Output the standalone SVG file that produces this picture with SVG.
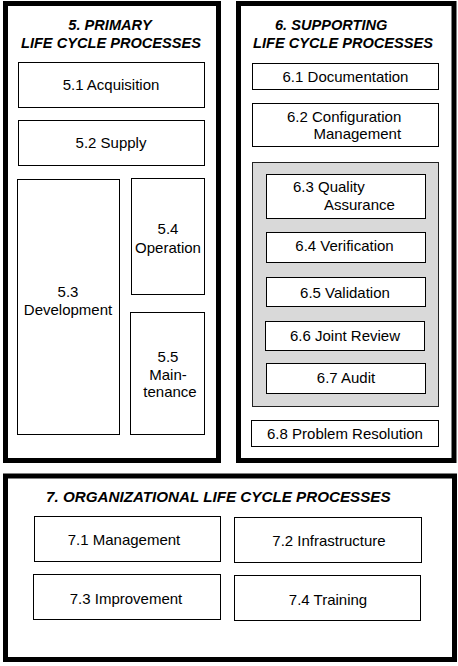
<svg xmlns="http://www.w3.org/2000/svg" width="458" height="666" viewBox="0 0 458 666">
<style>
text{font-family:"Liberation Sans",Arial,sans-serif;fill:#000}
.t{font-size:15px;text-anchor:middle}
.ts{font-size:15px}
.h{font-size:14.6px;font-weight:bold;font-style:italic}
.frame{fill:#fff;stroke:#000;stroke-width:5}
.box{fill:#fff;stroke:#000;stroke-width:1}
.grp{fill:#d9d9d9;stroke:#222;stroke-width:1}
</style>
<rect width="458" height="666" fill="#fff"/>
<g id="frame5">
<rect class="frame" x="5.5" y="3.5" width="213" height="457"/>
<text class="h" x="110" y="29.5" text-anchor="middle">5. PRIMARY</text>
<text class="h" x="111" y="48" text-anchor="middle">LIFE CYCLE PROCESSES</text>
</g>
<g id="frame6">
<rect class="frame" x="238.5" y="3.5" width="215.5" height="457"/>
<text class="h" x="275" y="29.5">6. SUPPORTING</text>
<text class="h" x="253" y="48">LIFE CYCLE PROCESSES</text>
</g>
<g id="frame7">
<rect class="frame" x="5.5" y="476" width="449" height="183.5"/>
<text class="h" x="46" y="502" style="font-size:15.2px">7. ORGANIZATIONAL LIFE CYCLE PROCESSES</text>
</g>
<g id="connectors"></g>
<g id="n5-1"><rect class="box" x="18.5" y="62.5" width="186" height="45"/><text class="t" x="111" y="90">5.1 Acquisition</text></g>
<g id="n5-2"><rect class="box" x="18.5" y="120.5" width="186" height="45"/><text class="t" x="111" y="148">5.2 Supply</text></g>
<g id="n5-3"><rect class="box" x="17.5" y="179.5" width="102" height="255"/><text class="t" x="68" y="297">5.3</text><text class="t" x="68" y="314.5">Development</text></g>
<g id="n5-4"><rect class="box" x="131.5" y="178.5" width="73" height="116"/><text class="t" x="168" y="234">5.4</text><text class="t" x="168" y="252.5">Operation</text></g>
<g id="n5-5"><rect class="box" x="130.5" y="312.5" width="74" height="122"/><text class="t" x="168" y="362">5.5</text><text class="t" x="168" y="379.5">Main-</text><text class="t" x="170" y="397">tenance</text></g>
<g id="n6-1"><rect class="box" x="252.5" y="63.5" width="186" height="26"/><text class="t" x="345.5" y="81.5">6.1 Documentation</text></g>
<g id="n6-2"><rect class="box" x="252.5" y="103.5" width="186" height="43"/><text class="ts" x="287" y="121.5">6.2 Configuration</text><text class="ts" x="313.5" y="139">Management</text></g>
<g id="g6-qa"><rect class="grp" x="252.5" y="162.5" width="186" height="244"/></g>
<g id="n6-3"><rect class="box" x="266.5" y="174.5" width="159" height="44"/><text class="ts" x="293" y="192">6.3 Quality</text><text class="ts" x="324" y="210">Assurance</text></g>
<g id="n6-4"><rect class="box" x="266.5" y="232.5" width="159" height="30"/><text class="t" x="344.5" y="251">6.4 Verification</text></g>
<g id="n6-5"><rect class="box" x="266.5" y="277.5" width="159" height="29"/><text class="t" x="345" y="297.5">6.5 Validation</text></g>
<g id="n6-6"><rect class="box" x="265.5" y="321.5" width="159" height="29"/><text class="t" x="345" y="341">6.6 Joint Review</text></g>
<g id="n6-7"><rect class="box" x="266.5" y="363.5" width="159" height="30"/><text class="t" x="346" y="383">6.7 Audit</text></g>
<g id="n6-8"><rect class="box" x="251.5" y="420.5" width="187" height="26"/><text class="t" x="345" y="438.5">6.8 Problem Resolution</text></g>
<g id="n7-1"><rect class="box" x="34.5" y="516.5" width="186" height="45"/><text class="t" x="124" y="545">7.1 Management</text></g>
<g id="n7-2"><rect class="box" x="234.5" y="517.5" width="187" height="45"/><text class="t" x="329" y="546">7.2 Infrastructure</text></g>
<g id="n7-3"><rect class="box" x="33.5" y="574.5" width="187" height="45"/><text class="t" x="126" y="604">7.3 Improvement</text></g>
<g id="n7-4"><rect class="box" x="234.5" y="575.5" width="186" height="45"/><text class="t" x="328" y="604.5">7.4 Training</text></g>
</svg>
